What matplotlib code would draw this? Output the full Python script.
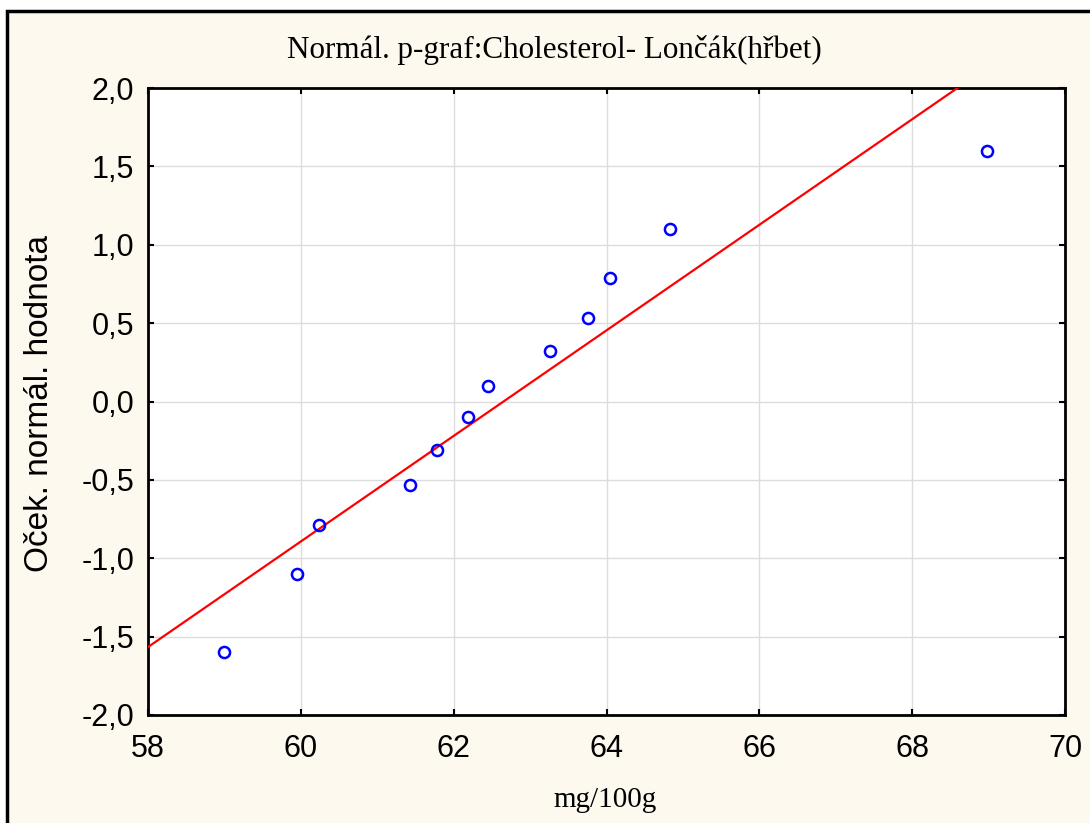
import matplotlib
matplotlib.use('Agg')
import matplotlib.pyplot as plt
from matplotlib.patches import Rectangle
import numpy as np

# measured values (mg/100g) and expected normal values
cholesterol = [59.0, 59.95, 60.24, 61.43, 61.78, 62.19, 62.45, 63.26, 63.76, 64.05, 64.83, 68.98]
expected_normal = [-1.60, -1.10, -0.79, -0.53, -0.31, -0.10, 0.10, 0.32, 0.53, 0.79, 1.10, 1.60]

# fitted reference line: y = intercept + slope * x
line_intercept = -21.095
line_slope = 0.3367

x_ticks = [58, 60, 62, 64, 66, 68, 70]
x_tick_labels = ['58', '60', '62', '64', '66', '68', '70']
y_ticks = [-2.0, -1.5, -1.0, -0.5, 0.0, 0.5, 1.0, 1.5, 2.0]
y_tick_labels = ['-2,0', '-1,5', '-1,0', '-0,5', '0,0', '0,5', '1,0', '1,5', '2,0']

title = "Normál. p-graf:Cholesterol- Lončák(hřbet)"
x_label = "mg/100g"
y_label = "Oček. normál. hodnota"

W, H = 1090, 823
fig = plt.figure(figsize=(W / 100, H / 100), dpi=100)
fig.patch.set_facecolor('white')

# cream background frame
frame = Rectangle((7 / W, -0.05), 1.1, 1 - 11 / H + 0.05, transform=fig.transFigure,
                  facecolor='#fdf9ef', edgecolor='black', linewidth=2.5, zorder=-10)
fig.patches.append(frame)

ax = fig.add_axes([148 / W, 1 - 715 / H, (1065 - 148) / W, (715 - 88) / H])
ax.set_zorder(5)
ax.set_facecolor('white')

xs = np.array([x_ticks[0], x_ticks[-1]], dtype=float)
ax.plot(xs, line_intercept + line_slope * xs, color='#ff0000', linewidth=1.6, zorder=3)
ax.plot(cholesterol, expected_normal, linestyle='none', marker='o', markersize=8,
        markerfacecolor='none', markeredgecolor='#0000ff', markeredgewidth=1.8, zorder=4)

ax.set_xlim(x_ticks[0], x_ticks[-1])
ax.set_ylim(y_ticks[0], y_ticks[-1])
ax.set_xticks(x_ticks)
ax.set_xticklabels(x_tick_labels)
ax.set_yticks(y_ticks)
ax.set_yticklabels(y_tick_labels)
ax.grid(True, color='#dcdcdc', linewidth=1)
ax.set_axisbelow(True)
ax.tick_params(direction='in', length=4, width=1.5, top=True, right=True,
               labelsize=22)
ax.tick_params(axis='x', pad=14)
ax.tick_params(axis='y', pad=10)
for lbl in ax.get_xticklabels() + ax.get_yticklabels():
    lbl.set_fontfamily('Liberation Sans')
for s in ax.spines.values():
    s.set_linewidth(2)
    s.set_color('black')

fig.text(554 / W, 1 - 50 / H, title, ha='center', va='center',
         fontsize=22.4, family='Liberation Serif')
fig.text(605 / W, 1 - 800 / H, x_label, ha='center', va='center',
         fontsize=21, family='Liberation Serif')
fig.text(40 / W, 1 - 403 / H, y_label, ha='center', va='center', rotation=90,
         fontsize=24, family='Liberation Sans')

fig.savefig('out.png', dpi=100)
